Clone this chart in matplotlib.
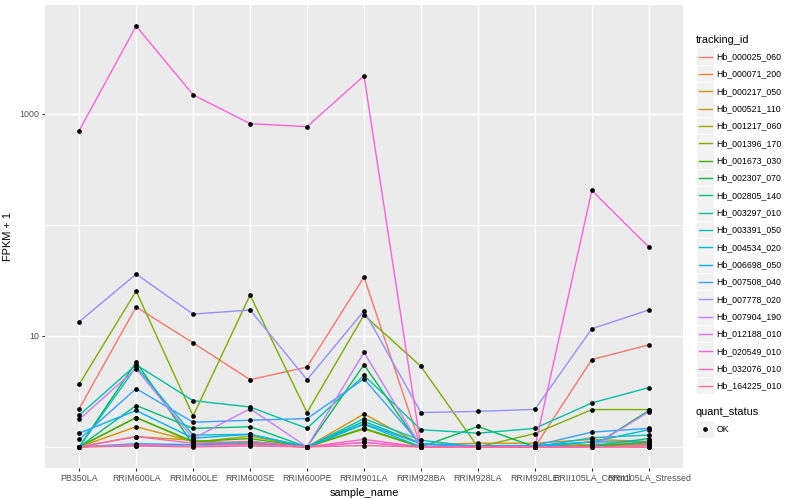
import math
import numpy as np
import matplotlib
matplotlib.use("Agg")
import matplotlib.pyplot as plt
from matplotlib.lines import Line2D
from matplotlib.patches import Rectangle

plt.rcParams['font.family'] = ['Liberation Sans', 'DejaVu Sans']

samples = ["PB350LA", "RRIM600LA", "RRIM600LE", "RRIM600SE", "RRIM600PE", "RRIM901LA",
           "RRIM928BA", "RRIM928LA", "RRIM928LE", "RRII105LA_Control", "RRII105LA_Stressed"]

genes = ["Hb_000025_060", "Hb_000071_200", "Hb_000217_050", "Hb_000521_110", "Hb_001217_060",
         "Hb_001396_170", "Hb_001673_030", "Hb_002307_070", "Hb_002805_140", "Hb_003297_010",
         "Hb_003391_050", "Hb_004534_020", "Hb_006698_050", "Hb_007508_040", "Hb_007778_020",
         "Hb_007904_190", "Hb_012188_010", "Hb_020549_010", "Hb_032076_010", "Hb_164225_010"]

# FPKM + 1 values per gene, in sample order
g000025_060 = [2.21, 18.2, 8.65, 4.03, 5.24, 33.8, 1, 1, 1, 6.12, 8.3]
g000071_200 = [1, 1.03, 1.05, 1.05, 1, 1.1, 1, 1.02, 1.02, 1.05, 1.08]
g000217_050 = [1, 1.52, 1.12, 1.08, 1, 1.98, 1.05, 1.08, 1.08, 1.17, 1.12]
g000521_110 = [1, 1.24, 1.15, 1.05, 1, 1.45, 1, 1, 1, 1.05, 1.06]
g001217_060 = [1, 1.84, 1.1, 1.25, 1, 1.47, 1, 1, 1, 1.02, 1.04]
g001396_170 = [3.66, 25.3, 1.9, 23.3, 2.04, 15.4, 5.3, 1, 1.32, 2.17, 2.17]
g001673_030 = [1, 1.84, 1.12, 1.19, 1, 1.47, 1, 1, 1, 1, 1.11]
g002307_070 = [1, 5.81, 1.05, 1.12, 1, 5.5, 1, 1.53, 1, 1, 2.13]
g002805_140 = [1, 2.36, 1.47, 1.52, 1, 1.70, 1.07, 1, 1, 1.02, 1.19]
g003297_010 = [1.93, 5.49, 2.61, 2.29, 1.47, 4.4, 1.43, 1.33, 1.47, 2.49, 3.42]
g003391_050 = [1, 5.27, 1.28, 1.3, 1, 1.80, 1.15, 1, 1, 1.21, 1.28]
g004534_020 = [1, 1.07, 1.05, 1.1, 1, 1.6, 1, 1, 1, 1.11, 1.43]
g006698_050 = [1.33, 2.13, 1.2, 1.3, 1, 1.62, 1.07, 1, 1.03, 1.11, 1.11]
g007508_040 = [1.17, 3.35, 1.67, 1.74, 1.80, 4.1, 1.05, 1.03, 1.03, 1.36, 1.47]
g007778_020 = [13.4, 36, 15.7, 17.1, 4.03, 16.8, 2.04, 2.09, 2.18, 11.6, 17.1]
g007904_190 = [1.77, 5.06, 1.19, 2.21, 1, 7.1, 1, 1, 1, 1, 2.07]
g012188_010 = [1, 1.05, 1.02, 1.05, 1, 1.1, 1, 1, 1, 1, 1.03]
g020549_010 = [704, 6150, 1480, 813, 764, 2190, 1, 1, 1, 204, 63]
g032076_010 = [1, 1.24, 1.08, 1.12, 1, 1.17, 1, 1, 1, 1, 1]
g164225_010 = [1, 1.02, 1, 1.02, 1, 1.03, 1, 1, 1, 1, 1]

values = [g000025_060, g000071_200, g000217_050, g000521_110, g001217_060, g001396_170,
          g001673_030, g002307_070, g002805_140, g003297_010, g003391_050, g004534_020,
          g006698_050, g007508_040, g007778_020, g007904_190, g012188_010, g020549_010,
          g032076_010, g164225_010]

status_labels = ["OK"]


def hcl_hex(h, c, l):
    Xn, Yn, Zn = 95.047, 100.0, 108.883
    hr = math.radians(h)
    U = c * math.cos(hr)
    V = c * math.sin(hr)
    L = l
    if L > 8:
        Y = Yn * ((L + 16) / 116) ** 3
    else:
        Y = Yn * L / 903.3
    t = Xn + 15 * Yn + 3 * Zn
    un = 4 * Xn / t
    vn = 9 * Yn / t
    u = U / (13 * L) + un
    v = V / (13 * L) + vn
    X = 9.0 * Y * u / (4 * v)
    Z = -X / 3 - 5 * Y + 3 * Y / v
    X, Y, Z = X / 100, Y / 100, Z / 100
    r = 3.240479 * X - 1.537150 * Y - 0.498535 * Z
    g = -0.969256 * X + 1.875992 * Y + 0.041556 * Z
    b = 0.055648 * X - 0.204043 * Y + 1.057311 * Z

    def gam(x):
        x = 12.92 * x if x <= 0.0031308 else 1.055 * x ** (1 / 2.4) - 0.055
        return min(1, max(0, x))
    return (gam(r), gam(g), gam(b))


n = len(genes)
colors = [hcl_hex(15 + 360 * i / n, 100, 65) for i in range(n)]

W, H = 800, 500
fig = plt.figure(figsize=(W / 100, H / 100), dpi=100)
L0, R0, T0, B0 = 45, 683, 5, 468
ax = fig.add_axes([L0 / W, 1 - B0 / H, (R0 - L0) / W, (B0 - T0) / H])
ax.set_facecolor('#EBEBEB')
for s in ax.spines.values():
    s.set_visible(False)

xs = np.arange(len(samples))
for i, g in enumerate(genes):
    ax.plot(xs, values[i], color=colors[i], lw=1.0, zorder=3, solid_capstyle='butt')
for i, g in enumerate(genes):
    ax.plot(xs, values[i], 'o', color='black', ms=3.4, mec='black', mew=0, zorder=4)

ax.set_yscale('log')
allv = np.log10(np.concatenate([np.array(v, float) for v in values]))
lo, hi = allv.min(), allv.max()
pad = (hi - lo) * 0.05
ax.set_ylim(10 ** (lo - pad), 10 ** (hi + pad))
ax.set_xlim(-0.6, len(samples) - 0.4)

major = [10, 1000]
minor = [1, 100, 10000]
for m in minor:
    ax.axhline(m, color='white', lw=0.55, zorder=1)
for m in major:
    ax.axhline(m, color='white', lw=1.05, zorder=2)
for x in xs:
    ax.axvline(x, color='white', lw=1.05, zorder=2)

ax.set_yticks(major)
ax.set_yticklabels([str(m) for m in major])
ax.yaxis.set_minor_locator(matplotlib.ticker.NullLocator())
ax.set_xticks(xs)
ax.set_xticklabels(samples)
ax.tick_params(axis='both', length=2.5, width=0.8, color='#333333', labelcolor='#4D4D4D',
               labelsize=6.4, pad=1.5)

ax.set_xlabel('sample_name', fontsize=7.9, color='black')
ax.set_ylabel('FPKM + 1', fontsize=7.9, color='black')
ax.xaxis.set_label_coords(0.5, (468 - 488) / 463)
ax.yaxis.set_label_coords((13 - 45) / 638, 0.5)

# legend (drawn in pixel coordinates of the figure)
def fx(x):
    return x / W

def fy(y):
    return 1 - y / H

fig.text(fx(696), fy(40), 'tracking_id', fontsize=7.9, ha='left', va='center')
step = 17.33
y0 = 56.7
for i, g in enumerate(genes):
    yc = y0 + i * step
    fig.add_artist(Rectangle((fx(697), fy(yc + 8.3)), 16.6 / W, 16.6 / H,
                             transform=fig.transFigure, facecolor='#F2F2F2', edgecolor='none'))
    fig.add_artist(Line2D([fx(698.5), fx(712)], [fy(yc), fy(yc)], transform=fig.transFigure,
                          color=colors[i], lw=1.0))
    fig.text(fx(716.5), fy(yc), g, fontsize=6.3, ha='left', va='center')

fig.text(fx(696), fy(412), 'quant_status', fontsize=7.9, ha='left', va='center')
for j, s in enumerate(status_labels):
    yc = 429.3 + j * step
    fig.add_artist(Rectangle((fx(697), fy(yc + 8.3)), 16.6 / W, 16.6 / H,
                             transform=fig.transFigure, facecolor='#F2F2F2', edgecolor='none'))
    fig.add_artist(Line2D([fx(705.3)], [fy(yc)], transform=fig.transFigure, marker='o',
                          color='black', ms=3.4, mew=0, ls='none'))
    fig.text(fx(716.5), fy(yc), s, fontsize=6.3, ha='left', va='center')

fig.savefig('out.png', dpi=100)
